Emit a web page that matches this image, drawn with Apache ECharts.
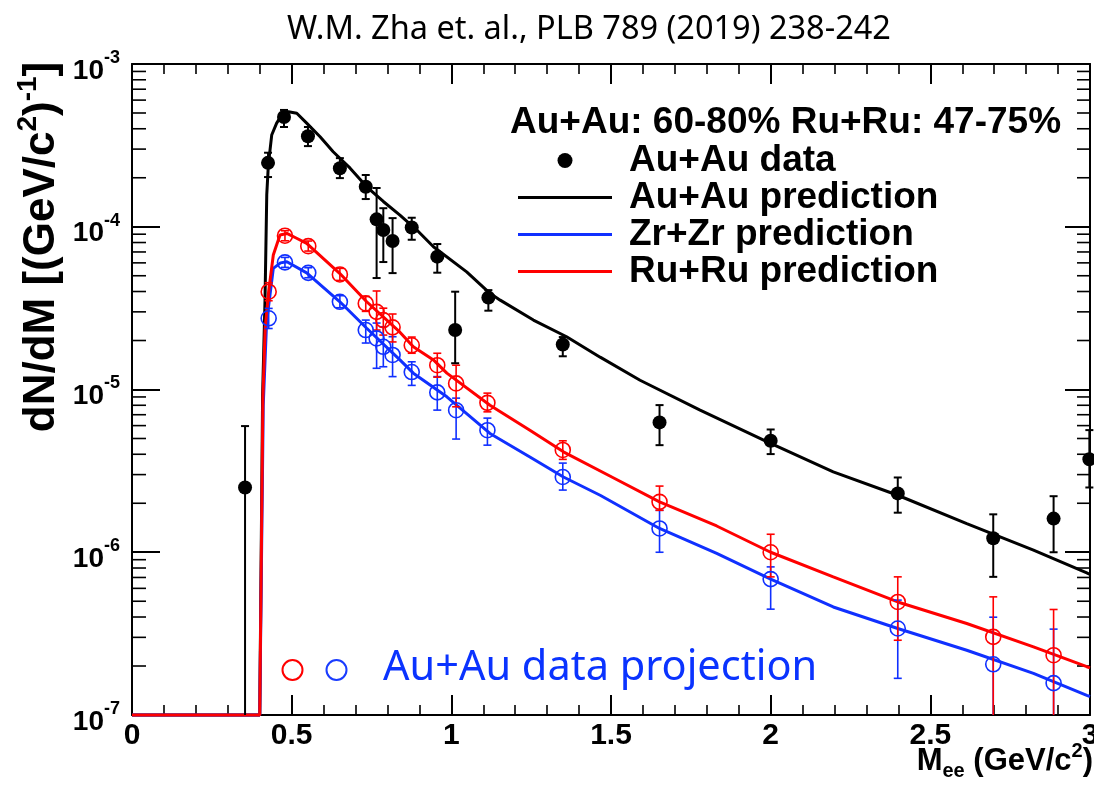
<!DOCTYPE html>
<html><head><meta charset="utf-8">
<script src="https://cdn.jsdelivr.net/npm/echarts@6/dist/echarts.min.js"></script>
<style>html,body{margin:0;padding:0;background:#fff}#c{width:1094px;height:786px}</style>
</head><body><div id="c"></div>
<script>
// ---------------- data ----------------
const xTickLabels = ['0', '0.5', '1', '1.5', '2', '2.5', '3'];
const yTickExponents = [-7, -6, -5, -4, -3];

// Au+Au measured points (black) with error-bar ends
const auauDataX  = [0.354, 0.426, 0.476, 0.551, 0.651, 0.732, 0.766, 0.787, 0.816, 0.876, 0.956, 1.012, 1.116, 1.349, 1.652, 2.0, 2.398, 2.697, 2.886, 2.998];
const auauDataY  = [2.5e-6, 2.47e-4, 4.72e-4, 3.6e-4, 2.29e-4, 1.76e-4, 1.11e-4, 9.55e-5, 8.17e-5, 9.9e-5, 6.55e-5, 2.32e-5, 3.67e-5, 1.89e-5, 6.28e-6, 4.84e-6, 2.30e-6, 1.22e-6, 1.61e-6, 3.73e-6];
const auauDataHi = [5.96e-6, 2.85e-4, 5.22e-4, 4.10e-4, 2.64e-4, 2.08e-4, 1.73e-4, 1.30e-4, 1.13e-4, 1.136e-4, 7.83e-5, 3.99e-5, 4.08e-5, 2.10e-5, 8.02e-6, 5.68e-6, 2.88e-6, 1.71e-6, 2.21e-6, 5.63e-6];
const auauDataLo = [1e-7, 2.02e-4, 4.10e-4, 3.13e-4, 1.99e-4, 1.48e-4, 4.84e-5, 6.07e-5, 5.19e-5, 8.32e-5, 5.22e-5, 1.45e-5, 3.05e-5, 1.60e-5, 4.55e-6, 4.01e-6, 1.75e-6, 7.06e-7, 1.0e-6, 2.5e-6];

// projected points (open circles)
const projX  = [0.428, 0.479, 0.552, 0.651, 0.732, 0.766, 0.787, 0.816, 0.876, 0.956, 1.015, 1.113, 1.349, 1.652, 2.0, 2.398, 2.697, 2.886];
const ruruY  = [3.99e-5, 8.81e-5, 7.6e-5, 5.09e-5, 3.38e-5, 3.0e-5, 2.67e-5, 2.41e-5, 1.87e-5, 1.41e-5, 1.09e-5, 8.28e-6, 4.25e-6, 2.04e-6, 1.0e-6, 4.95e-7, 3.02e-7, 2.33e-7];
const ruruHi = [4.53e-5, 9.45e-5, 8.17e-5, 5.55e-5, 3.73e-5, 4.03e-5, 3.16e-5, 2.91e-5, 2.10e-5, 1.67e-5, 1.41e-5, 9.5e-6, 4.84e-6, 2.55e-6, 1.29e-6, 7.06e-7, 5.32e-7, 4.45e-7];
const ruruLo = [3.51e-5, 8.2e-5, 7.09e-5, 4.68e-5, 3.02e-5, 2.32e-5, 2.16e-5, 1.96e-5, 1.67e-5, 1.19e-5, 7.83e-6, 7.29e-6, 3.72e-6, 1.81e-6, 7.06e-7, 2.88e-7, 1e-7, 1e-7];
const zrzrY  = [2.74e-5, 6.04e-5, 5.21e-5, 3.46e-5, 2.32e-5, 2.06e-5, 1.83e-5, 1.63e-5, 1.28e-5, 9.6e-6, 7.46e-6, 5.62e-6, 2.9e-6, 1.40e-6, 6.84e-7, 3.4e-7, 2.05e-7, 1.57e-7];
const zrzrHi = [3.15e-5, 6.48e-5, 5.6e-5, 3.77e-5, 2.67e-5, 2.56e-5, 2.43e-5, 2.11e-5, 1.48e-5, 1.20e-5, 8.85e-6, 6.67e-6, 3.53e-6, 1.81e-6, 8.13e-7, 5.08e-7, 3.99e-7, 3.37e-7];
const zrzrLo = [2.37e-5, 5.63e-5, 4.86e-5, 3.18e-5, 1.93e-5, 1.35e-5, 1.38e-5, 1.20e-5, 1.06e-5, 7.47e-6, 4.96e-6, 4.55e-6, 2.41e-6, 1.0e-6, 4.47e-7, 1.68e-7, 1e-7, 1e-7];

// prediction curves
const auauPredX = [0, 0.40, 0.409, 0.4165, 0.422, 0.427, 0.4375, 0.453, 0.47, 0.49, 0.516, 0.547, 0.589, 0.63, 0.683, 0.735, 0.787, 0.839, 0.892, 0.944, 1.048, 1.121, 1.153, 1.257, 1.361, 1.466, 1.591, 1.779, 1.988, 2.196, 2.398, 2.614, 2.823, 2.99, 3.0];
const auauPredY = [1e-7, 1e-7, 9.2e-6, 3.5e-5, 1.57e-4, 2.4e-4, 3.66e-4, 4.33e-4, 4.9e-4, 5.09e-4, 4.98e-4, 4.33e-4, 3.57e-4, 2.89e-4, 2.29e-4, 1.76e-4, 1.43e-4, 1.18e-4, 9.55e-5, 7.53e-5, 5.28e-5, 3.9e-5, 3.54e-5, 2.67e-5, 2.11e-5, 1.58e-5, 1.14e-5, 7.46e-6, 4.78e-6, 3.12e-6, 2.24e-6, 1.50e-6, 1.03e-6, 7.46e-7, 7.3e-7];
const ruruPredX = [0, 0.40, 0.41, 0.417, 0.428, 0.4425, 0.4635, 0.485, 0.5155, 0.547, 0.651, 0.735, 0.839, 0.881, 0.944, 0.986, 1.121, 1.246, 1.351, 1.507, 1.652, 1.831, 2.0, 2.196, 2.398, 2.614, 2.823, 2.99, 3.0];
const ruruPredY = [1e-7, 1e-7, 9e-6, 2.38e-5, 4.0e-5, 6.7e-5, 8.9e-5, 9.1e-5, 8.5e-5, 7.9e-5, 5.16e-5, 3.46e-5, 2.25e-5, 1.83e-5, 1.52e-5, 1.26e-5, 8.0e-6, 5.62e-6, 4.14e-6, 2.87e-6, 2.04e-6, 1.45e-6, 1.0e-6, 7.06e-7, 4.95e-7, 3.65e-7, 2.62e-7, 1.98e-7, 1.95e-7];
const zrzrPredX = [0, 0.40, 0.411, 0.4215, 0.4425, 0.465, 0.485, 0.547, 0.651, 0.735, 0.839, 0.881, 0.986, 1.121, 1.246, 1.351, 1.466, 1.652, 1.831, 2.0, 2.196, 2.398, 2.614, 2.823, 2.99, 3.0];
const zrzrPredY = [1e-7, 1e-7, 8e-6, 2.6e-5, 5.55e-5, 6.0e-5, 6.1e-5, 5.21e-5, 3.46e-5, 2.38e-5, 1.52e-5, 1.26e-5, 9.02e-6, 5.37e-6, 3.85e-6, 2.9e-6, 2.24e-6, 1.4e-6, 9.85e-7, 6.84e-7, 4.61e-7, 3.4e-7, 2.5e-7, 1.8e-7, 1.32e-7, 1.3e-7];

// ---------------- chart ----------------
const Y_MIN = 1e-7, Y_MAX = 1e-3;
const HELV = '"Liberation Sans", Arial, Helvetica, sans-serif';
const RED = '#ff0000', BLUE = '#1030ff', BLACK = '#000000';
const LINE_ICON = 'path://M0,0H94V3H0Z';

const zip = (xs, ys) => xs.map((x, i) => [x, ys[i]]);
const zip3 = (xs, lo, hi) => xs.map((x, i) => [x, lo[i], hi[i]]);

// minor tick values of the log axis (2..9 x each decade)
const yMinorTicks = [];
for (let e = yTickExponents[0]; e < yTickExponents[yTickExponents.length - 1]; e++) {
  for (let m = 2; m <= 9; m++) yMinorTicks.push([0, m * Math.pow(10, e)]);
}

function errRender(color, cap, width) {
  return function (params, api) {
    const x = api.value(0), lo = api.value(1), hi = api.value(2);
    const a = api.coord([x, hi]), b = api.coord([x, lo]);
    const st = { stroke: color, lineWidth: width };
    const ch = [
      { type: 'line', shape: { x1: a[0], y1: a[1], x2: b[0], y2: b[1] }, style: st },
      { type: 'line', shape: { x1: a[0] - cap, y1: a[1], x2: a[0] + cap, y2: a[1] }, style: st }
    ];
    if (lo > Y_MIN * 1.001) ch.push({ type: 'line', shape: { x1: b[0] - cap, y1: b[1], x2: b[0] + cap, y2: b[1] }, style: st });
    return { type: 'group', children: ch };
  };
}

function minorTickRender(params, api) {
  const cs = params.coordSys;
  const y = api.coord([0, api.value(1)])[1];
  const st = { stroke: BLACK, lineWidth: 1.6 };
  return { type: 'group', children: [
    { type: 'line', shape: { x1: cs.x, y1: y, x2: cs.x + 14, y2: y }, style: st },
    { type: 'line', shape: { x1: cs.x + cs.width - 13, y1: y, x2: cs.x + cs.width, y2: y }, style: st }
  ] };
}

const axisLineStyle = { color: BLACK, width: 2 };
const xAxisCommon = {
  type: 'value', min: 0, max: 3, interval: 0.5,
  axisLine: { show: true, onZero: false, lineStyle: axisLineStyle },
  axisTick: { show: true, inside: true, length: 20, lineStyle: { color: BLACK, width: 2 } },
  minorTick: { show: true, splitNumber: 5, length: 10, lineStyle: { color: BLACK, width: 1.6 } },
  splitLine: { show: false }, minorSplitLine: { show: false }
};
const yAxisCommon = {
  type: 'log', logBase: 10, min: Y_MIN, max: Y_MAX,
  axisLine: { show: true, onZero: false, lineStyle: axisLineStyle },
  splitLine: { show: false }, minorTick: { show: false }
};

const chart = echarts.init(document.getElementById('c'), null, { renderer: 'canvas' });
chart.setOption({
  backgroundColor: '#ffffff',
  animation: false,
  title: [
    { text: 'W.M. Zha et. al., PLB 789 (2019) 238-242', left: 584, top: 5, textAlign: 'center',
      textStyle: { fontFamily: '"Noto Sans", "Open Sans", sans-serif', fontWeight: 'normal', fontSize: 32.5, lineHeight: 40, color: BLACK } },
    { text: 'Au+Au: 60-80% Ru+Ru: 47-75%', left: 505, top: 99,
      textStyle: { fontFamily: HELV, fontWeight: 'bold', fontSize: 37, lineHeight: 38, color: BLACK } }
  ],
  legend: {
    orient: 'vertical', left: 513, top: 137, itemWidth: 94, itemHeight: 15, itemGap: 0,
    selectedMode: false, symbolKeepAspect: true,
    data: [
      { name: 'Au+Au data', icon: 'circle' },
      { name: 'Au+Au prediction', icon: LINE_ICON },
      { name: 'Zr+Zr prediction', icon: LINE_ICON },
      { name: 'Ru+Ru prediction', icon: LINE_ICON }
    ],
    textStyle: { fontFamily: HELV, fontWeight: 'bold', fontSize: 37, lineHeight: 35, color: BLACK, padding: [0, 0, 0, 12] }
  },
  grid: { left: 132, top: 64, right: 4, bottom: 71, containLabel: false, outerBoundsMode: 'none' },
  xAxis: [
    Object.assign({}, xAxisCommon, {
      position: 'bottom',
      axisLabel: { show: true, margin: 6, fontFamily: HELV, fontWeight: 'bold', fontSize: 30, color: BLACK,
        formatter: (v) => xTickLabels[Math.round(v * 2)] },
      name: '{m|M}{e|ee}{m| (GeV/c}{s|2}{m|)}', nameLocation: 'end', nameGap: 3, nameMoveOverlap: false,
      nameTextStyle: { align: 'right', verticalAlign: 'top', padding: [26, 0, 0, 0], color: BLACK,
        rich: {
          m: { fontFamily: HELV, fontWeight: 'bold', fontSize: 31, lineHeight: 40, color: BLACK },
          e: { fontFamily: HELV, fontWeight: 'bold', fontSize: 20, lineHeight: 14, verticalAlign: 'bottom', color: BLACK },
          s: { fontFamily: HELV, fontWeight: 'bold', fontSize: 20, lineHeight: 28, verticalAlign: 'top', color: BLACK }
        } }
    }),
    Object.assign({}, xAxisCommon, { position: 'top', axisLabel: { show: false } })
  ],
  yAxis: [
    Object.assign({}, yAxisCommon, {
      position: 'left',
      axisTick: { show: true, inside: true, length: 28, lineStyle: { color: BLACK, width: 2 } },
      axisLabel: { show: true, margin: 12, padding: [14, 0, 0, 0],
        formatter: (v) => '{n|10}{s|' + Math.round(Math.log10(v)) + '}',
        rich: {
          n: { fontFamily: HELV, fontWeight: 'bold', fontSize: 28, lineHeight: 44, color: BLACK },
          s: { fontFamily: HELV, fontWeight: 'bold', fontSize: 18, lineHeight: 18, verticalAlign: 'top', color: BLACK }
        } }
    }),
    Object.assign({}, yAxisCommon, {
      position: 'right',
      axisTick: { show: true, inside: true, length: 25, lineStyle: { color: BLACK, width: 2 } },
      axisLabel: { show: false }
    })
  ],
  graphic: [
    { type: 'text', x: 42, y: 247, rotation: Math.PI / 2, z: 10,
      style: { text: '{t|dN/dM [(GeV/c}{p|2}{t|)}{p|-1}{t|]}', align: 'center', verticalAlign: 'middle',
        rich: {
          t: { fontFamily: HELV, fontWeight: 'bold', fontSize: 44, lineHeight: 56, fill: BLACK },
          p: { fontFamily: HELV, fontWeight: 'bold', fontSize: 28, lineHeight: 22, verticalAlign: 'top', fill: BLACK }
        } } },
    { type: 'circle', z: 10, shape: { cx: 292.5, cy: 670, r: 10 }, style: { fill: 'none', stroke: RED, lineWidth: 2 } },
    { type: 'circle', z: 10, shape: { cx: 336.5, cy: 670, r: 10 }, style: { fill: 'none', stroke: '#1a3cff', lineWidth: 2 } },
    { type: 'text', x: 383, y: 668, z: 10,
      style: { text: 'Au+Au data projection', font: '41.5px "Noto Sans", sans-serif', fill: '#0a33ff', verticalAlign: 'middle' } }
  ],
  series: [
    { type: 'custom', name: 'minorTicks', silent: true, z: 1, renderItem: minorTickRender, data: yMinorTicks, clip: false },
    { type: 'line', name: 'Au+Au prediction', data: zip(auauPredX, auauPredY), showSymbol: false, symbol: 'none', clip: false, z: 2,
      lineStyle: { color: BLACK, width: 3 }, itemStyle: { color: BLACK } },
    { type: 'line', name: 'Zr+Zr prediction', data: zip(zrzrPredX, zrzrPredY), showSymbol: false, symbol: 'none', clip: false, z: 3,
      lineStyle: { color: BLUE, width: 3 }, itemStyle: { color: BLUE } },
    { type: 'line', name: 'Ru+Ru prediction', data: zip(ruruPredX, ruruPredY), showSymbol: false, symbol: 'none', clip: false, z: 4,
      lineStyle: { color: RED, width: 3 }, itemStyle: { color: RED } },
    { type: 'custom', name: 'Zr+Zr errors', silent: true, z: 5, renderItem: errRender(BLUE, 4, 1.6), data: zip3(projX, zrzrLo, zrzrHi), encode: { x: 0, y: [1, 2] } },
    { type: 'custom', name: 'Ru+Ru errors', silent: true, z: 5, renderItem: errRender(RED, 4, 1.6), data: zip3(projX, ruruLo, ruruHi), encode: { x: 0, y: [1, 2] } },
    { type: 'scatter', name: 'Zr+Zr projection', data: zip(projX, zrzrY), symbol: 'circle', symbolSize: 15, z: 6,
      itemStyle: { color: 'rgba(0,0,0,0)', borderColor: BLUE, borderWidth: 1.6, opacity: 1 } },
    { type: 'scatter', name: 'Ru+Ru projection', data: zip(projX, ruruY), symbol: 'circle', symbolSize: 15, z: 6,
      itemStyle: { color: 'rgba(0,0,0,0)', borderColor: RED, borderWidth: 1.6, opacity: 1 } },
    { type: 'custom', name: 'Au+Au errors', silent: true, z: 7, renderItem: errRender(BLACK, 4, 2), data: zip3(auauDataX, auauDataLo, auauDataHi), encode: { x: 0, y: [1, 2] } },
    { type: 'scatter', name: 'Au+Au data', data: zip(auauDataX, auauDataY), symbol: 'circle', symbolSize: 14, z: 8,
      itemStyle: { color: BLACK, opacity: 1 } }
  ]
});
</script>
</body></html>
